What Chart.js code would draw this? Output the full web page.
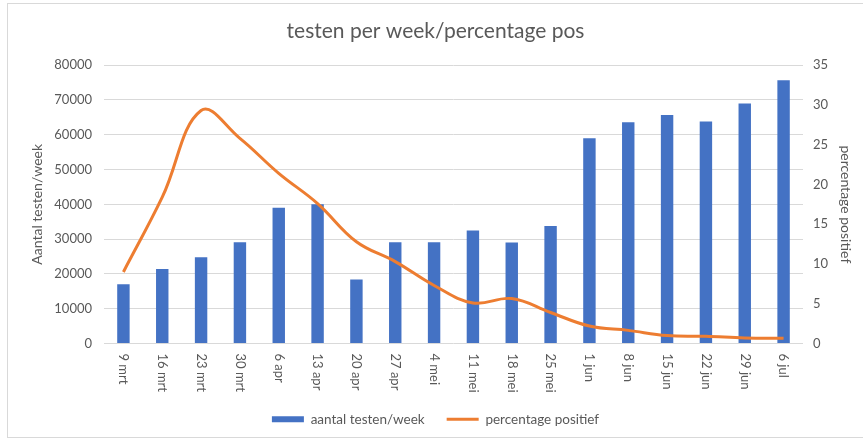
<!DOCTYPE html>
<html>
<head>
<meta charset="utf-8">
<script src="https://cdn.jsdelivr.net/npm/chart.js@4/dist/chart.umd.min.js"></script>
<style>
  html, body { margin: 0; padding: 0; background: #fff; }
  .frame {
    position: absolute; left: 7px; top: 3px;
    width: 856px; height: 433px;
    border-left: 1px solid #d9d9d9;
    border-top: 1px solid #d9d9d9;
    border-bottom: 1px solid #d9d9d9;
  }
  .box { position: relative; width: 855px; height: 433px; }
</style>
</head>
<body>
<div class="frame"><div class="box"><canvas id="test_chart"></canvas></div></div>
<script>
const weeks = ['9 mrt', '16 mrt', '23 mrt', '30 mrt', '6 apr', '13 apr', '20 apr', '27 apr', '4 mei',
  '11 mei', '18 mei', '25 mei', '1 jun', '8 jun', '15 jun', '22 jun', '29 jun', '6 jul'];
const testsPerWeek = [17000, 21400, 24800, 29100, 39000, 40000, 18400, 29100, 29100,
  32500, 29000, 33800, 59000, 63600, 65700, 63800, 69000, 75700];
const percentPositive = [9.0, 18.4, 29.3, 25.8, 21.4, 17.6, 12.8, 10.3, 7.3,
  5.1, 5.65, 3.9, 2.2, 1.65, 1.0, 0.9, 0.7, 0.65];
const leftTicks = [0, 10000, 20000, 30000, 40000, 50000, 60000, 70000, 80000];
const rightTicks = [0, 5, 10, 15, 20, 25, 30, 35];

const textColor = '#595959';
const fontFamily = 'Lato, "Open Sans", sans-serif';

// x labels in the reference read top-to-bottom, so draw them ourselves
const downLabels = {
  id: 'downLabels',
  afterDraw(chart) {
    const scale = chart.scales.x;
    const ctx = chart.ctx;
    ctx.save();
    ctx.fillStyle = textColor;
    ctx.font = '13px ' + fontFamily;
    ctx.textAlign = 'left';
    ctx.textBaseline = 'middle';
    scale.ticks.forEach((t, i) => {
      const x = scale.getPixelForTick(i);
      ctx.save();
      ctx.translate(x, scale.top + 10);
      ctx.rotate(Math.PI / 2);
      ctx.fillText(weeks[i], 0, 0);
      ctx.restore();
    });
    ctx.restore();
  }
};

const ctx = document.getElementById('test_chart').getContext('2d');
new Chart(ctx, {
  type: 'bar',
  data: {
    labels: weeks,
    datasets: [{
      type: 'line',
      label: 'percentage positief',
      data: percentPositive,
      yAxisID: 'y1',
      borderColor: '#ED7D31',
      backgroundColor: '#ED7D31',
      borderWidth: 3,
      pointRadius: 0,
      tension: 0.4,
      order: 1
    }, {
      label: 'aantal testen/week',
      data: testsPerWeek,
      yAxisID: 'y',
      backgroundColor: '#4472C4',
      barPercentage: 0.32,
      categoryPercentage: 1,
      order: 2
    }]
  },
  options: {
    responsive: true,
    maintainAspectRatio: false,
    animation: false,
    layout: { padding: { top: 0, bottom: 1, left: 0, right: 0 } },
    plugins: {
      title: {
        display: true,
        text: 'testen per week/percentage pos',
        color: textColor,
        font: { family: fontFamily, size: 21, weight: 'normal' },
        padding: { top: 15, bottom: 21 }
      },
      legend: {
        position: 'bottom',
        labels: {
          color: textColor,
          font: { family: fontFamily, size: 13.5 },
          usePointStyle: true,
          pointStyleWidth: 32,
          boxHeight: 6,
          padding: 22,
          generateLabels: () => [
            { text: 'aantal testen/week', fillStyle: '#4472C4', strokeStyle: '#4472C4', lineWidth: 0, pointStyle: 'rect', fontColor: textColor, datasetIndex: 1 },
            { text: 'percentage positief', fillStyle: '#ED7D31', strokeStyle: '#ED7D31', lineWidth: 3, pointStyle: 'line', fontColor: textColor, datasetIndex: 0 }
          ]
        }
      },
      tooltip: { enabled: false }
    },
    scales: {
      x: {
        grid: { display: false },
        border: { display: false },
        afterFit: (axis) => { axis.height = 47; },
        ticks: {
          color: 'rgba(0,0,0,0)',
          font: { family: fontFamily, size: 13 },
          minRotation: 90,
          maxRotation: 90,
          autoSkip: false,
          padding: 10
        }
      },
      y: {
        position: 'left',
        min: 0,
        max: 80000,
        afterBuildTicks: (axis) => { axis.ticks = leftTicks.map((v) => ({ value: v })); },
        afterFit: (axis) => { axis.width = 96; },
        grid: { color: '#d9d9d9', drawTicks: false, lineWidth: 1 },
        border: { display: false },
        ticks: {
          color: textColor,
          font: { family: fontFamily, size: 13 },
          padding: 12,
          callback: (v) => String(v)
        },
        title: {
          display: true,
          text: 'Aantal testen/week',
          color: textColor,
          font: { family: fontFamily, size: 14 },
          padding: { top: 21, bottom: 0 }
        }
      },
      y1: {
        position: 'right',
        min: 0,
        max: 35,
        afterBuildTicks: (axis) => { axis.ticks = rightTicks.map((v) => ({ value: v })); },
        afterFit: (axis) => { axis.width = 60; },
        grid: { display: false, drawTicks: false },
        border: { display: false },
        ticks: {
          color: textColor,
          font: { family: fontFamily, size: 13 },
          padding: 10,
          callback: (v) => String(v)
        },
        title: {
          display: true,
          text: 'percentage positief',
          color: textColor,
          font: { family: fontFamily, size: 14 },
          padding: { top: 9, bottom: 0 }
        }
      }
    }
  },
  plugins: [downLabels]
});
</script>
</body>
</html>
